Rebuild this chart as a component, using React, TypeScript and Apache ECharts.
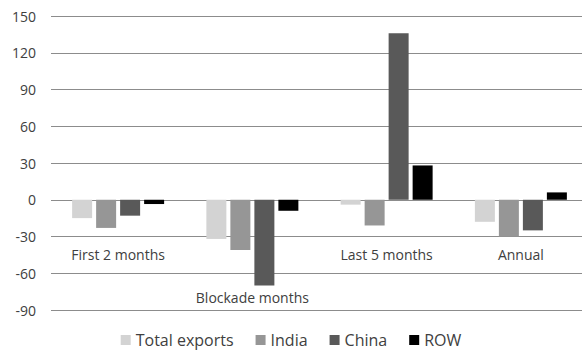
import React, { useEffect, useRef } from "react";
import * as echarts from "echarts";

const categories = ["First 2 months", "Blockade months", "Last 5 months", "Annual"];
const totalExports = [-15, -32, -4, -18];
const india = [-23, -41, -21, -30];
const china = [-13, -70, 136, -25];
const row = [-3.5, -9, 28, 6];
const yTicks = { min: -90, max: 150, interval: 30 };

const FONT = "'Open Sans', 'Noto Sans', sans-serif";
const TEXT = "#404040";

export default function App() {
  const ref = useRef<HTMLDivElement>(null);
  useEffect(() => {
    if (!ref.current) return;
    const chart = echarts.init(ref.current, undefined, { renderer: "svg" });
    const mk = (name: string, data: number[], color: string) => ({
      name,
      type: "bar",
      data,
      barWidth: 20,
      barGap: "20%",
      itemStyle: { color },
    });
    chart.setOption({
      animation: false,
      textStyle: { fontFamily: FONT },
      grid: { left: 51, right: -6, top: 16, bottom: 40, containLabel: false, outerBoundsMode: "none" },
      legend: {
        top: 327,
        left: "center",
        itemWidth: 10,
        itemHeight: 10,
        itemGap: 22,
        icon: "rect",
        textStyle: { fontSize: 16, color: TEXT, fontFamily: FONT },
        data: ["Total exports", "India", "China", "ROW"],
      },
      xAxis: {
        type: "category",
        data: categories,
        position: "bottom",
        offset: -63,
        axisTick: { show: false },
        axisLine: { show: false, onZero: false },
        axisLabel: {
          interval: 0,
          margin: 0,
          fontSize: 14,
          color: TEXT,
          fontFamily: FONT,
          formatter: (v: string, i: number) => (i === 1 ? `{b|${v}}` : `{a|${v}}`),
          rich: {
            a: { fontSize: 14, color: TEXT, fontFamily: FONT },
            b: { fontSize: 14, color: TEXT, fontFamily: FONT, padding: [43, 0, 0, 0] },
          },
        },
      },
      yAxis: {
        type: "value",
        min: yTicks.min,
        max: yTicks.max,
        interval: yTicks.interval,
        axisLine: { show: false },
        axisTick: { show: false },
        axisLabel: { fontSize: 14, color: TEXT, fontFamily: FONT, margin: 15 },
        splitLine: { lineStyle: { color: "#8c8c8c", width: 1 } },
      },
      series: [
        mk("Total exports", totalExports, "#d3d3d3"),
        mk("India", india, "#969696"),
        mk("China", china, "#595959"),
        mk("ROW", row, "#000000"),
      ],
    });
    return () => chart.dispose();
  }, []);
  return (
    <div
      ref={ref}
      style={{ position: "absolute", left: 0, top: 0, width: 582, height: 350, background: "#fff" }}
    />
  );
}
